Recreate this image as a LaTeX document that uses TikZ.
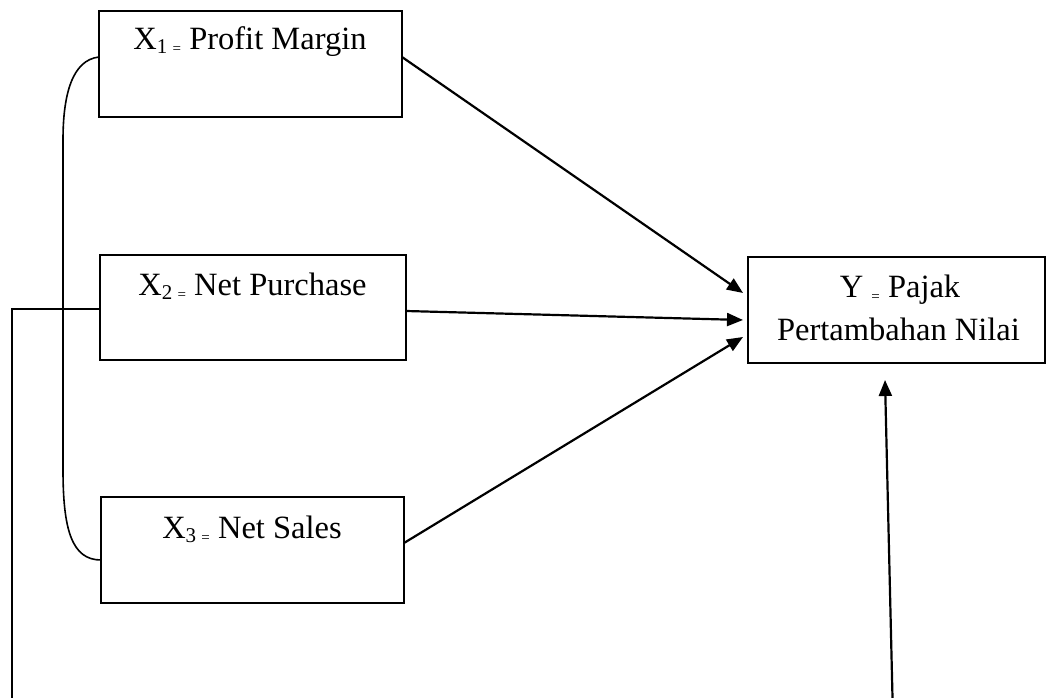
\documentclass[tikz,border=0pt]{standalone}
\usepackage{fontspec}
\setmainfont{Liberation Serif}
\usetikzlibrary{arrows.meta}
\newcommand\subx[1]{\raisebox{-4pt}{\fontsize{21}{21}\selectfont #1}}
\newcommand\smeq{{\fontsize{15}{15}\selectfont=}}
\begin{document}
\begin{tikzpicture}[x=1pt,y=-1pt,
  box/.style={draw,line width=2pt,minimum width=#1,minimum height=106pt,inner sep=0pt,outer sep=0pt},
  box/.default=303pt,
  txt/.style={anchor=base,inner sep=0pt,font=\fontsize{32.5}{36}\selectfont},
  conn/.style={line width=2pt},
  arr/.style={line width=2.2pt,-{Triangle[length=16pt,width=13pt]}},
  curve/.style={line width=1.6pt}]
\useasboundingbox (0,0) rectangle (1046,698);
% boxes
\node[box=303pt] (x1) at (250.5,64) {};
\node[box=306pt,minimum height=105pt] (x2) at (253,307.5) {};
\node[box=303pt] (x3) at (252.5,550) {};
\node[box=297pt] (y) at (896.5,310) {};
% texts
\node[txt] (t1) at (250,50) {X\subx{1 \smeq} Profit Margin};
\node[txt] (t2) at (252.5,295) {X\subx{2 \smeq} Net Purchase};
\node[txt] (t3) at (252,538) {X\subx{3 \smeq} Net Sales};
\node[txt] (ty1) at (900,297) {Y \subx{\smeq} Pajak};
\node[txt] (ty2) at (898.5,340) {Pertambahan Nilai};
% correlation curve
\draw[curve] ([yshift=7pt]x1.west) .. controls (72,60) and (63,95) .. (63,140)
  -- (63,470) .. controls (63,530) and (72,560) .. ([yshift=-10pt]x3.west);
% left line
\coordinate (lb) at (12,698);
\draw[conn] ([yshift=-1.5pt]x2.west) -| (lb);
% arrows
\draw[arr] ([yshift=7pt]x1.east) -- ([xshift=-5pt,yshift=17pt]y.west);
\draw[arr] ([yshift=-3.5pt]x2.east) -- ([xshift=-5pt,yshift=-10pt]y.west);
\draw[arr] ([yshift=7pt]x3.east) -- ([xshift=-5pt,yshift=-27pt]y.west);
\coordinate (bb) at (892.5,698);
\draw[arr] (bb) -- ([xshift=-11.5pt,yshift=-17pt]y.south);
\end{tikzpicture}
\end{document}
